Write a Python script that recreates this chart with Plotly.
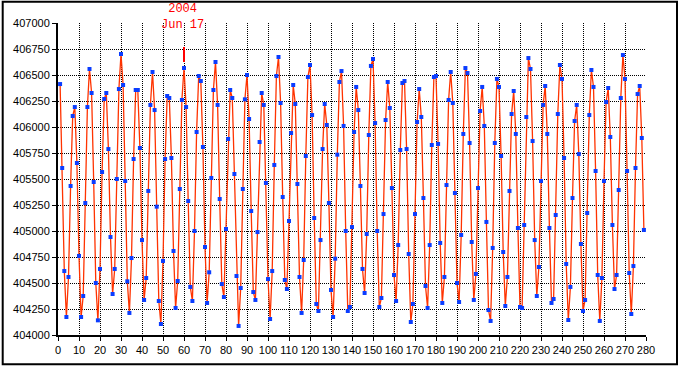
import plotly.graph_objects as go

# Apogee distance (km) for consecutive apogees, index 1..279
apogee_index = list(range(1, 280))
distance_km = [
    406413, 405606, 404615, 404173, 404558, 405433, 406106, 406192, 405654, 404760,
    404173, 404375, 405269, 406192, 406558, 406327, 405471, 404500, 404141, 404635,
    405567, 406269, 406327, 405788, 404942, 404394, 404635, 405500, 406365, 406702,
    406404, 405481, 404516, 404212, 404740, 405692, 406356, 406356, 405798, 404913,
    404337, 404548, 405385, 406212, 406529, 406163, 405234, 404327, 404106, 404712,
    405692, 406298, 406279, 405702, 404808, 404260, 404519, 405404, 406260, 406567,
    406192, 405288, 404462, 404327, 405000, 405952, 406490, 406442, 405808, 404846,
    404308, 404603, 405510, 406356, 406625, 406212, 405308, 404490, 404365, 405019,
    405885, 406356, 406279, 405548, 404567, 404087, 404452, 405404, 406266, 406500,
    406077, 405192, 404413, 404337, 404990, 405856, 406327, 406212, 405462, 404538,
    404154, 404615, 405635, 406490, 406673, 406231, 405327, 404529, 404442, 405096,
    405942, 406404, 406221, 405452, 404558, 404212, 404721, 405721, 406481, 406596,
    406115, 405125, 404298, 404231, 404913, 405788, 406221, 406019, 405269, 404433,
    404173, 404734, 405734, 406433, 406538, 406010, 405000, 404231, 404269, 405038,
    405952, 406385, 406163, 405433, 404635, 404404, 404971, 405923, 406587, 406654,
    406038, 405000, 404269, 404356, 405163, 406067, 406433, 406183, 405413, 404577,
    404327, 404865, 405779, 406423, 406442, 405788, 404779, 404125, 404298, 405163,
    406048, 406365, 406096, 405317, 404471, 404260, 404865, 405827, 406481, 406490,
    405837, 404885, 404308, 404558, 405442, 406260, 406529, 406231, 405365, 404500,
    404317, 404962, 405933, 406567, 406519, 405846, 404894, 404337, 404587, 405413,
    406154, 406385, 406010, 405087, 404240, 404135, 404837, 405846, 406462, 406385,
    405721, 404798, 404279, 404558, 405385, 406125, 406346, 405933, 405029, 404269,
    404260, 405058, 406096, 406663, 406558, 405865, 404913, 404375, 404654, 405481,
    406212, 406394, 405933, 405029, 404308, 404346, 405154, 406125, 406596, 406462,
    405702, 404683, 404144, 404462, 405317, 406058, 406212, 405740, 404875, 404231,
    404337, 405173, 406115, 406548, 406385, 405577, 404577, 404135, 404548, 405481,
    406240, 406375, 405904, 405058, 404442, 404577, 405394, 406279, 406692, 406462,
    405577, 404596, 404202, 404663, 405606, 406317, 406394, 405894, 405010,
]

x_ticks = list(range(0, 281, 10))
y_ticks = list(range(404000, 407001, 250))

event_index = 60
event_label = "2004<br>Jun 17"

fig = go.Figure()
fig.add_trace(go.Scatter(
    x=apogee_index, y=distance_km, mode="lines",
    line=dict(color="#ff3300", width=1.3),
    hoverinfo="skip", showlegend=False,
))
fig.add_trace(go.Scatter(
    x=apogee_index, y=distance_km, mode="markers",
    marker=dict(symbol="square", size=4, color="#0a3cff", line=dict(width=0)),
    showlegend=False,
))

ev_val = distance_km[apogee_index.index(event_index)]
fig.add_shape(type="line", xref="x", yref="y",
              x0=event_index, x1=event_index, y0=ev_val + 58, y1=ev_val + 203,
              line=dict(color="#ff0000", width=2))
fig.add_annotation(x=event_index - 0.5, y=(335 - 17) / 312, xref="x", yref="paper",
                   yanchor="middle", text=event_label, showarrow=False,
                   font=dict(family="Liberation Mono, Courier New, monospace", size=12, color="#ff0000"))

# outer frame
fig.add_shape(type="rect", xref="paper", yref="paper",
              x0=(2.7 - 58) / 588, x1=(677 - 58) / 588,
              y0=(335 - 364.3) / 312, y1=(335 - 1.7) / 312,
              line=dict(color="black", width=2), layer="above")

grid = dict(showgrid=True, gridcolor="black", gridwidth=1, griddash="1px,1px")
fig.update_xaxes(range=[0, 280], tickvals=x_ticks, ticktext=[str(v) for v in x_ticks],
                 showline=True, linecolor="black", linewidth=2,
                 ticks="outside", ticklen=4, tickcolor="black", tickwidth=1,
                 zeroline=False, tickfont=dict(family="Liberation Sans, Arial", size=11, color="black"),
                 **grid)
fig.update_yaxes(range=[404000, 407000], tickvals=y_ticks, ticktext=[str(v) for v in y_ticks],
                 showline=True, linecolor="black", linewidth=2,
                 ticks="outside", ticklen=4, tickcolor="black", tickwidth=1,
                 zeroline=False, tickfont=dict(family="Liberation Sans, Arial", size=11, color="black"),
                 **grid)
fig.update_layout(
    width=682, height=368,
    margin=dict(l=58, r=36, t=23, b=33),
    paper_bgcolor="white", plot_bgcolor="white",
    showlegend=False,
)
fig.write_html("out.html", config={"displayModeBar": False},
               post_script="document.body.style.margin='0';document.body.style.overflow='hidden';")
